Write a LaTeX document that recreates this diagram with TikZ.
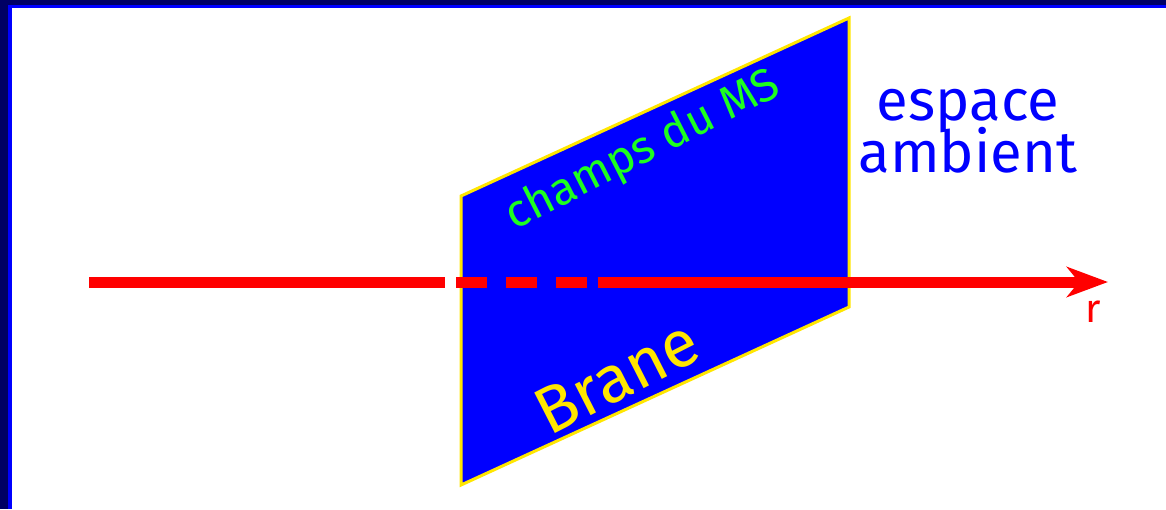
\documentclass[tikz,border=0pt]{standalone}
\usepackage{fontspec}
\setmainfont{Fira Sans}
\usetikzlibrary{arrows.meta}
\definecolor{navy}{RGB}{0,0,100}
\definecolor{brblue}{RGB}{0,0,255}
\definecolor{bryellow}{RGB}{255,230,0}
\definecolor{brgreen}{RGB}{30,255,30}
\definecolor{brred}{RGB}{255,0,0}
\tikzset{
  plane/.style={fill=brblue, draw=bryellow, line width=3pt, line join=miter},
  ray/.style={draw=brred, line width=11pt, line cap=butt},
  lbl/.style={inner sep=0pt, font=\fontsize{#1}{#1}\selectfont},
}
\begin{document}
\begin{tikzpicture}[x=1pt,y=-1pt]
\useasboundingbox (0,0) rectangle (1166,509);
\fill[white] (0,0) rectangle (1166,509);
% frame
\fill[navy] (0,0) rectangle (1166,5);
\fill[navy] (0,0) rectangle (8,509);
\fill[brblue] (8,5) rectangle (1166,8);
\fill[brblue] (8,5) rectangle (12,509);
% brane plane
\coordinate (p1) at (461,196);
\coordinate (p2) at (849,18);
\coordinate (p3) at (849,307);
\coordinate (p4) at (461,485);
\draw[plane] (p1) -- (p2) -- (p3) -- (p4) -- cycle;
% labels
\node[lbl=46, text=brgreen, rotate=27] (champs) at (643,151) {champs du MS};
\node[lbl=66, text=bryellow, rotate=27] (brane) at (617,377) {Brane};
\node[lbl=58, text=brblue, align=center] (esp) at (968,131) {espace\\[-6pt]ambient};
% axis
\coordinate (a0) at (89,282);
\coordinate (a1) at (445,282);
\coordinate (d0) at (456,282);
\coordinate (d1) at (598,282);
\coordinate (a2) at (1108,282);
\draw[ray] (a0) -- (a1);
\draw[ray, dash pattern=on 31pt off 19pt] (d0) -- (d1);
\draw[ray, -{Stealth[length=41pt, width=30pt, inset=12pt]}] (d1) -- (a2);
\node[lbl=40, text=brred] (r) at (1093,312) {r};
\end{tikzpicture}
\end{document}
